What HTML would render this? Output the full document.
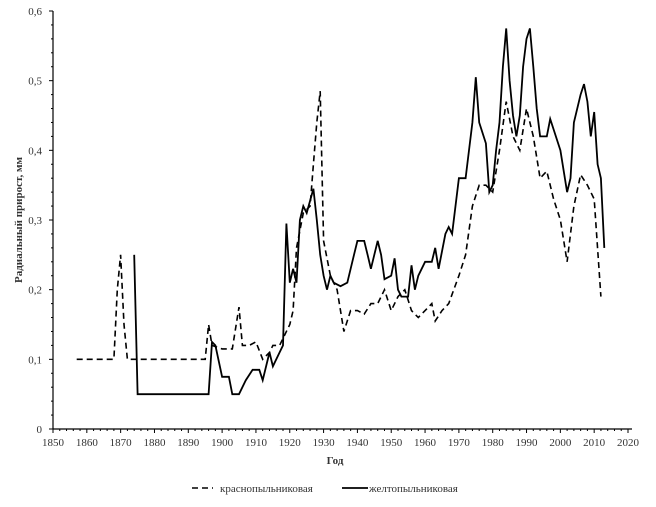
<!DOCTYPE html>
<html><head><meta charset="utf-8"><style>
body{margin:0;background:#fff}
svg text{font-family:"Liberation Serif",serif;fill:#333}
</style></head><body>
<svg id="s" width="656" height="502" xmlns="http://www.w3.org/2000/svg"></svg>
<script>
const s=document.getElementById('s');
const X=y=>53+(y-1850)*575/170, Y=v=>429-v*418/0.6;
let h='';
h+=`<line x1="53" y1="11" x2="53" y2="429" stroke="#000" stroke-width="1.2"/>`;
h+=`<line x1="53" y1="429" x2="632" y2="429" stroke="#000" stroke-width="1.2"/>`;
for(let i=0;i<=30;i++){let y=Y(i*0.02);h+=`<line x1="${i%5==0?49:51}" y1="${y}" x2="53" y2="${y}" stroke="#000"/>`;}
for(let i=0;i<=6;i++){h+=`<text x="42" y="${Y(i/10)+4}" font-size="11" text-anchor="end">${i==0?'0':'0,'+i}</text>`;}
for(let yr=1850;yr<=2020;yr+=2){let x=X(yr);h+=`<line x1="${x}" y1="429" x2="${x}" y2="${yr%10==0?433:431}" stroke="#000"/>`;}
for(let yr=1850;yr<=2020;yr+=10){h+=`<text x="${X(yr)}" y="446" font-size="11" text-anchor="middle">${yr}</text>`;}
h+=`<text x="335" y="464" font-size="11" font-weight="bold" text-anchor="middle" fill="#000">Год</text>`;
h+=`<text transform="translate(22,220) rotate(-90)" font-size="11" font-weight="bold" text-anchor="middle">Радиальный прирост, мм</text>`;
const d=[[1857,.1],[1868,.1],[1869,.2],[1870,.25],[1871,.15],[1872,.1],[1895,.1],[1896,.15],[1897,.12],[1900,.115],[1903,.115],[1905,.175],[1906,.12],[1908,.12],[1910,.125],[1912,.1],[1914,.11],[1915,.12],[1917,.12],[1918,.13],[1920,.15],[1921,.17],[1922,.26],[1924,.31],[1926,.32],[1927,.38],[1928,.44],[1929,.485],[1930,.27],[1932,.22],[1934,.2],[1936,.14],[1938,.17],[1940,.17],[1942,.165],[1944,.18],[1946,.18],[1948,.2],[1950,.17],[1952,.19],[1954,.2],[1956,.17],[1958,.16],[1960,.17],[1962,.18],[1963,.155],[1965,.17],[1967,.18],[1970,.22],[1972,.25],[1974,.32],[1976,.35],[1978,.35],[1980,.34],[1982,.4],[1984,.47],[1986,.42],[1988,.4],[1990,.46],[1992,.42],[1994,.36],[1996,.37],[1998,.33],[2000,.3],[2002,.24],[2004,.32],[2006,.365],[2008,.35],[2010,.33],[2012,.19]];
const sd=[[1874,.25],[1875,.05],[1896,.05],[1897,.125],[1898,.12],[1900,.075],[1902,.075],[1903,.05],[1905,.05],[1907,.07],[1909,.085],[1911,.085],[1912,.07],[1914,.11],[1915,.09],[1917,.11],[1918,.12],[1919,.295],[1920,.21],[1921,.23],[1922,.21],[1923,.3],[1924,.32],[1925,.31],[1927,.345],[1928,.3],[1929,.25],[1930,.22],[1931,.2],[1932,.22],[1933,.21],[1935,.205],[1937,.21],[1939,.25],[1940,.27],[1942,.27],[1943,.25],[1944,.23],[1945,.25],[1946,.27],[1947,.25],[1948,.215],[1950,.22],[1951,.245],[1952,.2],[1953,.19],[1955,.19],[1956,.235],[1957,.2],[1958,.22],[1960,.24],[1962,.24],[1963,.26],[1964,.23],[1966,.28],[1967,.29],[1968,.28],[1970,.36],[1972,.36],[1973,.4],[1974,.44],[1975,.505],[1976,.44],[1978,.41],[1979,.34],[1980,.35],[1981,.4],[1982,.44],[1983,.52],[1984,.575],[1985,.5],[1986,.45],[1987,.42],[1988,.45],[1989,.52],[1990,.56],[1991,.575],[1992,.52],[1993,.46],[1994,.42],[1996,.42],[1997,.445],[1998,.43],[2000,.4],[2002,.34],[2003,.36],[2004,.44],[2006,.48],[2007,.495],[2008,.47],[2009,.42],[2010,.455],[2011,.38],[2012,.36],[2013,.26]];
const pts=a=>a.map(p=>X(p[0]).toFixed(1)+','+Y(p[1]).toFixed(1)).join(' ');
h+=`<polyline points="${pts(d)}" fill="none" stroke="#000" stroke-width="1.6" stroke-dasharray="6,4"/>`;
h+=`<polyline points="${pts(sd)}" fill="none" stroke="#000" stroke-width="1.8"/>`;
h+=`<line x1="192" y1="488" x2="213" y2="488" stroke="#000" stroke-width="1.6" stroke-dasharray="6,4"/>`;
h+=`<text x="220" y="492" font-size="11">краснопыльниковая</text>`;
h+=`<line x1="342" y1="488" x2="368" y2="488" stroke="#000" stroke-width="1.8"/>`;
h+=`<text x="369" y="492" font-size="11">желтопыльниковая</text>`;
s.innerHTML=h;
</script>
</body></html>
